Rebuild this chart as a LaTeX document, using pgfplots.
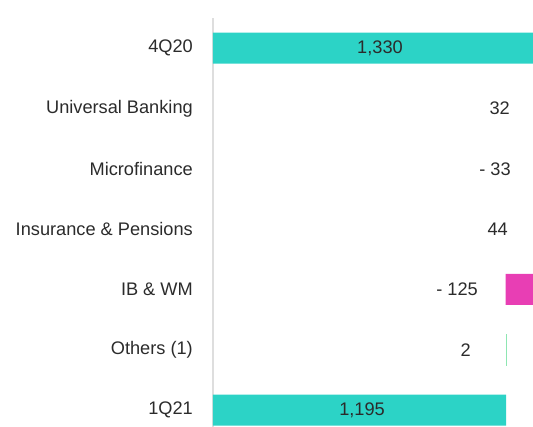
\documentclass[border=0pt]{standalone}
\usepackage{pgfplots}
\pgfplotsset{compat=1.18}
\usepackage{fontspec}
\setmainfont{Liberation Sans}
\definecolor{teal1}{HTML}{2CD3C6}
\definecolor{pink1}{HTML}{E83EB4}
\definecolor{green1}{HTML}{8EE6B2}
\definecolor{txt}{HTML}{2B2B2B}
\begin{document}
\begin{tikzpicture}
\begin{axis}[
    name=ax,
    scale only axis,
    width=320pt, height=422.3pt,
    xbar stacked, bar width=31pt,
    xmin=0, xmax=1305,
    ymin=-0.5, ymax=6.5, y dir=reverse,
    ytick={0,...,6},
    yticklabels={4Q20,Universal Banking,Microfinance,Insurance \& Pensions,IB \& WM,Others (1),1Q21},
    yticklabel style={font=\fontsize{18.2}{21}\selectfont, text=txt, inner sep=0pt, xshift=-20pt},
    major tick length=0pt,
    hide x axis,
    axis y line*=left,
    y axis line style={draw=black!13, line width=1.2pt},
]
% invisible offsets
\addplot[fill=none, draw=none] coordinates {(0,0) (1330,1) (1329,2) (1329,3) (1193,4) (1195,5) (0,6)};
% decreases
\addplot[fill=pink1, draw=none] coordinates {(0,0) (0,1) (33,2) (0,3) (125,4) (0,5) (0,6)};
% increases
\addplot[fill=green1, draw=green1, line width=0.8pt] coordinates {(0,0) (32,1) (0,2) (44,3) (0,4) (2,5) (0,6)};
% totals
\addplot[fill=teal1, draw=none] coordinates {(1330,0) (0,1) (0,2) (0,3) (0,4) (0,5) (1195,6)};
% label anchors
\coordinate (l0) at (axis cs:681,0);
\coordinate (l1) at (axis cs:1211,1);
\coordinate (l2) at (axis cs:1215,2);
\coordinate (l3) at (axis cs:1203,3);
\coordinate (l4) at (axis cs:1081,4);
\coordinate (l5) at (axis cs:1052,5);
\coordinate (l6) at (axis cs:608,6);
\end{axis}
\begin{scope}[every node/.style={font=\fontsize{18.2}{21}\selectfont, text=txt, inner sep=0pt}]
\node at (l0) {1,330};
\node[anchor=east] at (l1) {32};
\node[anchor=east] at (l2) {- 33};
\node[anchor=east] at (l3) {44};
\node[anchor=east] at (l4) {- 125};
\node[anchor=east] at (l5) {2};
\node at (l6) {1,195};
\end{scope}
\pgfresetboundingbox
\path[use as bounding box] ([xshift=-213pt,yshift=18pt]ax.north west) rectangle ([yshift=-408pt]ax.north east);
\end{tikzpicture}
\end{document}
